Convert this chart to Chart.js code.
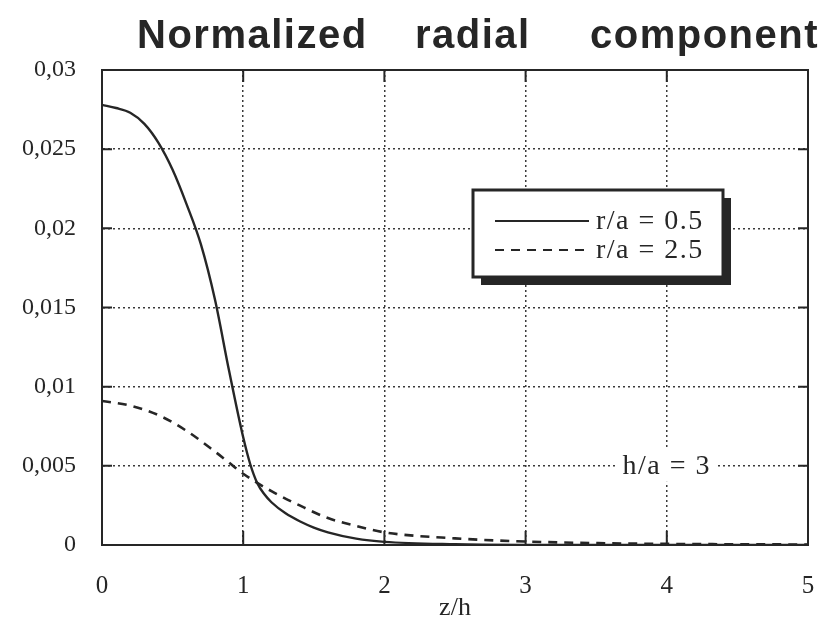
<!DOCTYPE html>
<html>
<head>
<meta charset="utf-8">
<script src="https://cdn.jsdelivr.net/npm/chart.js@4"></script>
<style>
  html, body { margin: 0; padding: 0; background: #fff; }
  #wrap { width: 820px; height: 628px; }
</style>
</head>
<body>
<div id="wrap"><canvas id="chart" width="820" height="628"></canvas></div>
<script>
// data
const zSolid = [0, 0.1, 0.2, 0.3, 0.4, 0.5, 0.6, 0.7, 0.8, 0.9, 1.0, 1.05, 1.1, 1.15, 1.2, 1.3, 1.4, 1.5, 1.6, 1.8, 2.0, 2.5, 3, 4, 5];
const solidValues = [0.0278, 0.0276, 0.0273, 0.0266, 0.0254, 0.0237, 0.0215, 0.0190, 0.0155, 0.0110, 0.0068, 0.0051, 0.0039, 0.0032, 0.0027, 0.0020, 0.0015, 0.0011, 0.0008, 0.0004, 0.0002, 0.00005, 0.00001, 0, 0];

const zDashed = [0, 0.2, 0.4, 0.6, 0.8, 0.9, 1.0, 1.2, 1.4, 1.6, 1.8, 2.0, 2.5, 3, 3.5, 4, 5];
const dashedValues = [0.0091, 0.0088, 0.0082, 0.0072, 0.0059, 0.0052, 0.0045, 0.0034, 0.0025, 0.0017, 0.0012, 0.0008, 0.00042, 0.00022, 0.00012, 0.00007, 0.00003];

const seriesLabels = ["r/a = 0.5", "r/a = 2.5"];
const yTickLabels = ["0", "0,005", "0,01", "0,015", "0,02", "0,025", "0,03"];
const titleWords = ["Normalized", "radial", "component"];
const noteText = "h/a = 3";

const ink = "#262626";
const serif = "'Liberation Serif', 'Times New Roman', serif";

function toPoints(xs, ys) {
  return xs.map((x, i) => ({ x: x, y: ys[i] }));
}

// frame, inner tick marks, title, note and legend box
const decorations = {
  id: "decorations",
  afterDatasetsDraw(chart) {
    const ctx = chart.ctx;
    const area = chart.chartArea;
    const xs = chart.scales.x;
    const ys = chart.scales.y;
    ctx.save();

    // inner solid tick marks
    ctx.strokeStyle = ink;
    ctx.lineWidth = 2;
    ctx.beginPath();
    ys.ticks.forEach((t, i) => {
      const py = ys.getPixelForTick(i);
      ctx.moveTo(area.left, py); ctx.lineTo(area.left + 10, py);
      ctx.moveTo(area.right, py); ctx.lineTo(area.right - 10, py);
    });
    xs.ticks.forEach((t, i) => {
      const px = xs.getPixelForTick(i);
      ctx.moveTo(px, area.top); ctx.lineTo(px, area.top + 12);
      ctx.moveTo(px, area.bottom); ctx.lineTo(px, area.bottom - 14);
    });
    ctx.stroke();

    // frame
    ctx.lineWidth = 2;
    ctx.strokeRect(area.left, area.top, area.right - area.left, area.bottom - area.top);

    // note on the grid
    ctx.font = "28px " + serif;
    ctx.letterSpacing = "1.5px";
    ctx.textAlign = "center";
    ctx.textBaseline = "middle";
    const nx = xs.getPixelForValue(4);
    const ny = ys.getPixelForValue(0.005);
    const nw = ctx.measureText(noteText).width;
    ctx.fillStyle = "#fff";
    ctx.fillRect(nx - nw / 2 - 5, ny - 16, nw + 10, 32);
    ctx.fillStyle = ink;
    ctx.fillText(noteText, nx, ny + 1);

    // legend box with shadow
    const bx = 473, by = 190, bw = 250, bh = 87;
    ctx.fillStyle = ink;
    ctx.fillRect(bx + 8, by + 8, bw, bh);
    ctx.fillStyle = "#fff";
    ctx.fillRect(bx, by, bw, bh);
    ctx.lineWidth = 3;
    ctx.strokeRect(bx, by, bw, bh);

    ctx.font = "28px " + serif;
    ctx.textAlign = "left";
    chart.data.datasets.forEach((ds, i) => {
      const ly = by + 31 + i * 29;
      ctx.strokeStyle = ink;
      ctx.lineWidth = 2;
      ctx.setLineDash(ds.borderDash || []);
      ctx.beginPath();
      ctx.moveTo(bx + 22, ly);
      ctx.lineTo(bx + 116, ly);
      ctx.stroke();
      ctx.setLineDash([]);
      ctx.fillStyle = ink;
      ctx.fillText(ds.label, bx + 123, ly + 1);
    });

    // title
    ctx.font = "bold 40px 'Liberation Sans', Arial, sans-serif";
    ctx.letterSpacing = "1.5px";
    ctx.textAlign = "left";
    ctx.textBaseline = "alphabetic";
    ctx.fillStyle = ink;
    const titleX = [137, 415, 590];
    titleWords.forEach((w, i) => ctx.fillText(w, titleX[i], 48));
    ctx.restore();
  }
};

const gridStyle = {
  color: "#3a3a3a",
  lineWidth: 1.5,
  drawTicks: false
};

new Chart(document.getElementById("chart"), {
  type: "line",
  data: {
    datasets: [
      {
        label: seriesLabels[0],
        data: toPoints(zSolid, solidValues),
        borderColor: ink,
        borderWidth: 2.4,
        pointRadius: 0,
        cubicInterpolationMode: "monotone",
        fill: false
      },
      {
        label: seriesLabels[1],
        data: toPoints(zDashed, dashedValues),
        borderColor: ink,
        borderWidth: 2.6,
        borderDash: [9, 7],
        pointRadius: 0,
        cubicInterpolationMode: "monotone",
        fill: false
      }
    ]
  },
  options: {
    responsive: false,
    animation: false,
    events: [],
    layout: { padding: { top: 70, right: 12, left: 0, bottom: 0 } },
    plugins: {
      legend: { display: false },
      title: { display: false },
      tooltip: { enabled: false }
    },
    scales: {
      x: {
        type: "linear",
        min: 0,
        max: 5,
        ticks: {
          stepSize: 1,
          padding: 26,
          color: ink,
          font: { family: serif, size: 25 }
        },
        grid: gridStyle,
        border: { display: true, color: ink, width: 2, dash: [2, 3] },
        title: {
          display: true,
          text: "z/h",
          color: ink,
          font: { family: serif, size: 26 },
          padding: { top: 0, bottom: 4 }
        },
        afterFit(scale) {
          scale.height = 83;
          // the tick padding is meant for the vertical gap only
          scale.paddingLeft = 0;
          scale.paddingRight = 0;
        }
      },
      y: {
        type: "linear",
        min: 0,
        max: 0.03,
        ticks: {
          stepSize: 0.005,
          padding: 26,
          color: ink,
          font: { family: serif, size: 24 },
          callback: (v, i) => yTickLabels[i]
        },
        grid: gridStyle,
        border: { display: true, color: ink, width: 2, dash: [2, 3] },
        afterFit(scale) { scale.width = 102; }
      }
    }
  },
  plugins: [decorations]
});
</script>
</body>
</html>
